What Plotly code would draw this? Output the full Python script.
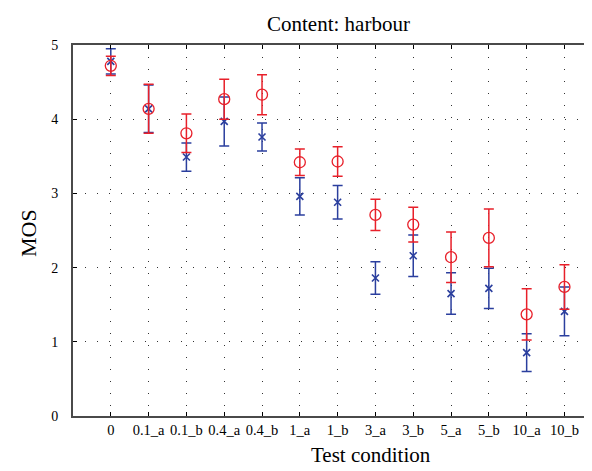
import plotly.graph_objects as go

conditions = ["0", "0.1_a", "0.1_b", "0.4_a", "0.4_b", "1_a", "1_b",
              "3_a", "3_b", "5_a", "5_b", "10_a", "10_b"]
red_mos = [4.72, 4.14, 3.81, 4.27, 4.33, 3.42, 3.43, 2.71, 2.58, 2.14, 2.40, 1.37, 1.74]
red_ci = [0.13, 0.33, 0.26, 0.27, 0.27, 0.18, 0.20, 0.21, 0.235, 0.34, 0.39, 0.345, 0.30]
blue_mos = [4.78, 4.14, 3.49, 3.97, 3.76, 2.96, 2.88, 1.86, 2.16, 1.65, 1.72, 0.855, 1.41]
blue_ci = [0.17, 0.32, 0.19, 0.33, 0.19, 0.25, 0.225, 0.22, 0.28, 0.28, 0.27, 0.255, 0.33]
y_ticks = [0, 1, 2, 3, 4, 5]

RED = "#e8202a"
BLUE = "#2b3f9e"
AX = "#4a4a4a"
FONT = "Liberation Serif"

xi = list(range(len(conditions)))

fig = go.Figure()
fig.add_trace(go.Scatter(
    x=xi, y=blue_mos, mode="markers",
    marker=dict(symbol="x-thin-open", size=7, color=BLUE, line=dict(color=BLUE, width=1.6)),
    error_y=dict(type="data", array=blue_ci, color=BLUE, thickness=1.5, width=5),
    showlegend=False))
fig.add_trace(go.Scatter(
    x=xi, y=red_mos, mode="markers",
    marker=dict(symbol="circle-open", size=11, color=RED, line=dict(color=RED, width=1.3)),
    error_y=dict(type="data", array=red_ci, color=RED, thickness=1.5, width=5),
    showlegend=False))

fig.update_layout(
    width=592, height=471,
    margin=dict(l=65, r=0, t=37, b=63),
    paper_bgcolor="white", plot_bgcolor="white",
    font=dict(family=FONT, color="black", size=14),
    annotations=[
        dict(text="Content: harbour", xref="paper", yref="paper", showarrow=False,
             x=(330 - 65) / 527, y=(408 - 16) / 371,
             xanchor="center", yanchor="middle",
             font=dict(family=FONT, size=21)),
        dict(text="Test condition", xref="paper", yref="paper", showarrow=False,
             x=(363 - 65) / 527, y=-(447 - 408) / 371, xanchor="center", yanchor="middle",
             font=dict(family=FONT, size=21)),
        dict(text="MOS", xref="paper", yref="paper", showarrow=False, textangle=-90,
             x=-(65 - 21) / 527, y=(408 - 225) / 371, xanchor="center", yanchor="middle",
             font=dict(family=FONT, size=22)),
    ],
)
fig.update_xaxes(
    range=[-1, 12.94], tickmode="array", tickvals=xi, ticktext=conditions,
    showline=True, linecolor=AX, linewidth=2, mirror="ticks",
    ticks="inside", ticklen=4, tickcolor="black", tickwidth=1,
    showgrid=True, gridcolor="#333333", gridwidth=1, griddash="1px,11px",
    zeroline=False, tickfont=dict(family=FONT, size=14.5), ticklabelstandoff=0,
)
fig.update_yaxes(
    range=[0, 5], tickmode="array", tickvals=y_ticks,
    showline=True, linecolor=AX, linewidth=2,
    ticks="inside", ticklen=4, tickcolor="black", tickwidth=1,
    showgrid=True, gridcolor="#333333", gridwidth=1, griddash="1px,11px",
    zeroline=False, tickfont=dict(family=FONT, size=14), ticklabelstandoff=10,
)

fig.write_html("out.html")
